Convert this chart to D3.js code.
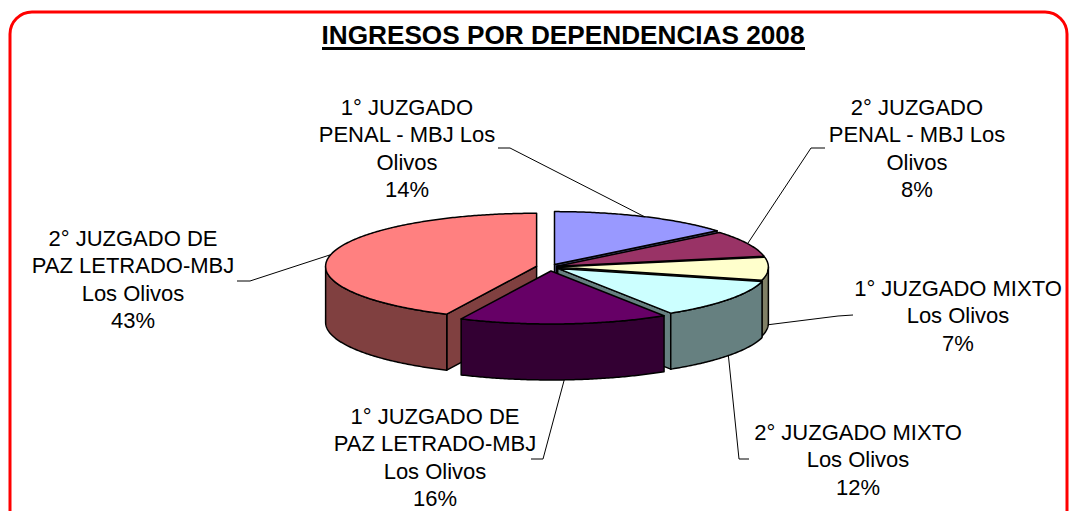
<!DOCTYPE html>
<html>
<head>
<meta charset="utf-8">
<script src="https://cdn.jsdelivr.net/npm/d3@7"></script>
<style>
  body { margin: 0; background: #fff; }
  svg { display: block; }
</style>
</head>
<body>
<script>
// data, in pie order (clockwise from 12 o'clock)
const categories = [
  "1° JUZGADO PENAL - MBJ Los Olivos",
  "2° JUZGADO PENAL - MBJ Los Olivos",
  "1° JUZGADO MIXTO Los Olivos",
  "2° JUZGADO MIXTO Los Olivos",
  "1° JUZGADO DE PAZ LETRADO-MBJ Los Olivos",
  "2° JUZGADO DE PAZ LETRADO-MBJ Los Olivos"
];
const labelLines = [
  ["1° JUZGADO", "PENAL - MBJ Los", "Olivos"],
  ["2° JUZGADO", "PENAL - MBJ Los", "Olivos"],
  ["1° JUZGADO MIXTO", "Los Olivos"],
  ["2° JUZGADO MIXTO", "Los Olivos"],
  ["1° JUZGADO DE", "PAZ LETRADO-MBJ", "Los Olivos"],
  ["2° JUZGADO DE", "PAZ LETRADO-MBJ", "Los Olivos"]
];
const values = [14, 8, 7, 12, 16, 43];
const colors = ["#9999FF", "#993366", "#FFFFCC", "#CCFFFF", "#660066", "#FF8080"];
const title = "INGRESOS POR DEPENDENCIAS 2008";

const W = 1071, H = 511;
const CX = 550, CY = 267, RX = 211, RY = 53, DEPTH = 56;
const explode = [0.05, 0.035, 0.035, 0.045, 0.075, 0.065];
const LINE_H = 27.3;

// where each label sits: text centre, first baseline, leader elbow and end
const labelLayout = [
  { x: 407, y: 115, elbow: [510, 148], end: [498, 148] },
  { x: 917, y: 115, elbow: [811, 148], end: [825, 148] },
  { x: 958, y: 296, elbow: [838, 316], end: [853, 315] },
  { x: 858, y: 440, elbow: [739, 459], end: [749, 459] },
  { x: 435, y: 424, elbow: [543, 459], end: [531, 459] },
  { x: 133, y: 246, elbow: [250, 281], end: [237, 281] }
];

const svg = d3.select("body").append("svg")
  .attr("width", W).attr("height", H)
  .style("font-family", "'Liberation Sans', Arial, sans-serif");

// red rounded frame
svg.append("rect")
  .attr("x", 10).attr("y", 12)
  .attr("width", 1057).attr("height", 540)
  .attr("rx", 22).attr("ry", 22)
  .attr("fill", "none")
  .attr("stroke", "#FF0000")
  .attr("stroke-width", 3);

// title
svg.append("text")
  .attr("x", 563).attr("y", 44)
  .attr("text-anchor", "middle")
  .attr("font-size", 26)
  .attr("font-weight", "bold")
  .attr("textLength", 483)
  .attr("lengthAdjust", "spacingAndGlyphs")
  .text(title);
svg.append("rect")
  .attr("x", 322).attr("y", 47)
  .attr("width", 483).attr("height", 3)
  .attr("fill", "#000");

const pie = d3.pie().sort(null).value(d => d)(values);

const slices = pie.map((p, i) => {
  const mid = (p.startAngle + p.endAngle) / 2;
  const e = explode[i];
  return {
    start: p.startAngle, end: p.endAngle, i, mid,
    ox: e * RX * Math.sin(mid),
    oy: -e * RY * Math.cos(mid)
  };
});

// point on the slice's ellipse: angle a, depth z below the top, radius fraction r
function pt(s, a, z = 0, r = 1) {
  return [CX + s.ox + RX * r * Math.sin(a), CY + s.oy - RY * r * Math.cos(a) + z];
}
function arcPts(s, a0, a1, z = 0) {
  const n = Math.max(2, Math.ceil((a1 - a0) / 0.01));
  return d3.range(n + 1).map(k => pt(s, a0 + (a1 - a0) * k / n, z));
}
function half(c) {
  const r = d3.rgb(c);
  return d3.rgb(r.r * 0.5, r.g * 0.5, r.b * 0.5).formatHex();
}
const line = d3.line();

const pieG = svg.append("g")
  .attr("stroke", "#000")
  .attr("stroke-width", 1.5)
  .attr("stroke-linejoin", "round");

// walls, back to front
const order = slices.slice().sort((a, b) => (-Math.cos(a.mid)) - (-Math.cos(b.mid)));
order.forEach(s => {
  const side = half(colors[s.i]);
  [[s.start, s.start - Math.PI / 2], [s.end, s.end + Math.PI / 2]].forEach(([a, n]) => {
    if (Math.cos(n) < -1e-3) {
      const poly = [pt(s, a, 0, 0), pt(s, a), pt(s, a, DEPTH), pt(s, a, DEPTH, 0)];
      pieG.append("path").attr("d", line(poly) + "Z").attr("fill", side);
    }
  });
  const a0 = Math.max(s.start, Math.PI / 2), a1 = Math.min(s.end, 3 * Math.PI / 2);
  if (a1 > a0) {
    const poly = arcPts(s, a0, a1).concat(arcPts(s, a0, a1, DEPTH).reverse());
    pieG.append("path").attr("d", line(poly) + "Z").attr("fill", side);
  }
});

// top faces
slices.forEach(s => {
  const poly = [pt(s, 0, 0, 0)].concat(arcPts(s, s.start, s.end));
  pieG.append("path").attr("d", line(poly) + "Z").attr("fill", colors[s.i]);
});

// leaders and labels
const labG = svg.append("g");
slices.forEach(s => {
  const L = labelLayout[s.i];
  const anchor = Math.cos(s.mid) > 0 ? pt(s, s.mid) : pt(s, s.mid, DEPTH);
  labG.append("path")
    .attr("d", line([anchor, L.elbow, L.end]))
    .attr("fill", "none")
    .attr("stroke", "#000")
    .attr("stroke-width", 1);
  const lines = labelLines[s.i].concat([values[s.i] + "%"]);
  const t = labG.append("text")
    .attr("text-anchor", "middle")
    .attr("font-size", 22)
    .attr("fill", "#000");
  lines.forEach((ln, k) => {
    t.append("tspan").attr("x", L.x).attr("y", L.y + k * LINE_H).text(ln);
  });
});
</script>
</body>
</html>
